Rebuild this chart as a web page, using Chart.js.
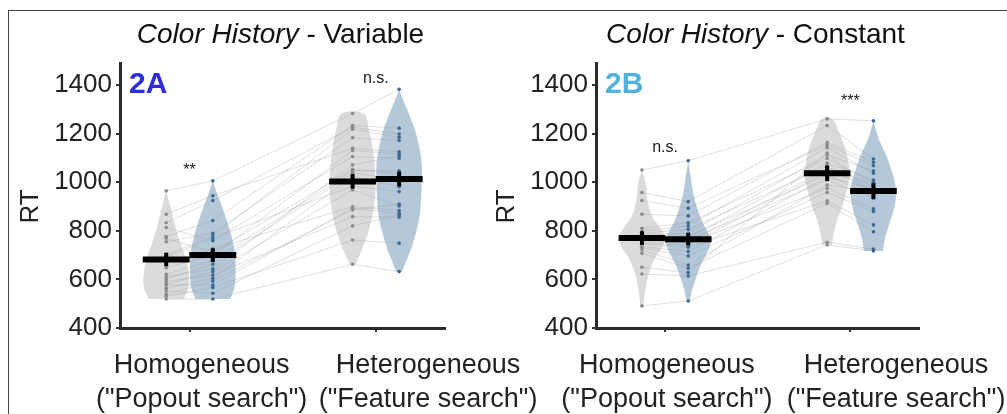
<!DOCTYPE html>
<html>
<head>
<meta charset="utf-8">
<script src="https://cdn.jsdelivr.net/npm/chart.js@4.4.1/dist/chart.umd.min.js"></script>
<style>
  html, body { margin: 0; padding: 0; background: #fff; }
  body { width: 1007px; height: 414px; position: relative; overflow: hidden; }
  #frame { position: absolute; left: 8px; top: 10px; width: 1020px; height: 420px;
           border-left: 1.5px solid #444; border-top: 1.5px solid #444; }
  canvas { position: absolute; left: 0; top: 0; }
</style>
</head>
<body>
<div id="frame"></div>
<canvas id="chartA" width="1007" height="414"></canvas>
<canvas id="chartB" width="1007" height="414"></canvas>
<script>
// categories and ticks
const categoryLabels = [['Homogeneous', '("Popout search")'], ['Heterogeneous', '("Feature search")']];
const yTicks = [400, 600, 800, 1000, 1200, 1400];

// 2A - Color History Variable, one value per participant
const rtA_homGray = [964, 833, 868, 776, 813, 755, 769, 700, 693, 648, 670, 611, 621, 591, 602, 580, 563, 577, 539, 552, 530, 519];
const rtA_homBlue = [1005, 924, 944, 842, 759, 790, 711, 779, 769, 700, 725, 643, 677, 618, 662, 632, 604, 577, 593, 543, 567, 519];
const rtA_hetGray = [1282, 1226, 1139, 1233, 1105, 1183, 1053, 1218, 984, 1130, 899, 1071, 1047, 858, 1037, 968, 1023, 893, 886, 820, 762, 662];
const rtA_hetBlue = [1382, 1198, 1125, 1222, 1098, 1171, 1034, 1185, 961, 1116, 883, 1108, 1047, 856, 1012, 902, 981, 872, 910, 865, 749, 632];
const meanA = [682, 700, 1003, 1013];
const semA = [28, 28, 30, 30];
const sigA = ['**', 'n.s.'];
const sigYA = [1030, 1408];
const labelPosA = [1.065, 2.28];

// 2B - Color History Constant
const rtB_homGray = [1050, 924, 957, 810, 868, 790, 799, 779, 785, 770, 775, 759, 765, 746, 750, 730, 735, 707, 721, 622, 650, 491];
const rtB_homBlue = [1088, 893, 920, 833, 861, 806, 820, 779, 790, 762, 770, 746, 752, 732, 740, 696, 714, 646, 659, 614, 628, 511];
const rtB_hetGray = [1260, 1153, 1233, 1098, 1163, 1065, 1142, 1030, 1112, 1009, 1078, 975, 1054, 923, 1043, 958, 1020, 913, 988, 753, 1120, 742];
const rtB_hetBlue = [1252, 1068, 1095, 1000, 1082, 955, 1037, 940, 1046, 934, 1009, 890, 995, 824, 986, 879, 975, 796, 961, 725, 947, 717];
const meanB = [770, 765, 1037, 963];
const semB = [28, 25, 32, 32];
const sigB = ['n.s.', '***'];
const sigYB = [1124, 1314];
const labelPosB = [1.01, 2.247];

// violin outlines: [RT, relative half width]
const violinA_homGray = [[519, .77], [563, .97], [618, 1], [687, .85], [755, .6], [824, .38], [893, .2], [964, 0]];
const violinA_homBlue = [[519, .77], [563, .94], [618, 1], [700, .98], [755, .88], [824, .68], [893, .43], [947, .21], [1005, 0]];
const violinA_hetGray = [[662, .13], [680, .22], [735, .47], [803, .72], [872, .89], [940, .99], [1009, 1], [1078, .96], [1146, .87], [1215, .72], [1282, .49]];
const violinA_hetBlue = [[632, .13], [680, .33], [735, .56], [803, .77], [872, .92], [940, .97], [1009, 1], [1078, .99], [1146, .88], [1215, .69], [1283, .42], [1338, .18], [1382, 0]];
const violinB_homGray = [[491, .07], [556, .15], [625, .31], [693, .61], [735, .92], [776, 1], [817, .77], [858, .46], [927, .24], [995, .17], [1050, 0]];
const violinB_homBlue = [[511, .07], [556, .17], [611, .36], [666, .59], [721, .89], [762, 1], [790, .89], [831, .65], [886, .42], [954, .22], [1023, .11], [1088, 0]];
const violinB_hetGray = [[742, .22], [769, .25], [837, .42], [906, .69], [975, .89], [1030, 1], [1071, .96], [1139, .8], [1208, .51], [1260, .22]];
const violinB_hetBlue = [[717, .42], [769, .51], [837, .73], [893, .92], [947, 1], [988, .97], [1043, .82], [1112, .56], [1181, .22], [1252, 0]];

const FONT = '"Liberation Sans", Arial, Helvetica, sans-serif';
const OFFSET = 0.125;      // gray left, blue right of each category
const VIOLIN_W = 0.122;
const BAR_W = 0.126;
const GRAY_FILL = 'rgba(190,190,190,0.55)';
const BLUE_FILL = 'rgba(120,155,185,0.55)';
const GRAY_DOT = '#8a8a8a';
const BLUE_DOT = '#3b6890';

function violinPoints(center, outline) {
    const right = outline.map(p => ({x: center + VIOLIN_W * p[1], y: p[0]}));
    const left = outline.slice().reverse().map(p => ({x: center - VIOLIN_W * p[1], y: p[0]}));
    return right.concat(left);
}

function panelPlugin(p) {
    return {
        id: 'panelText',
        afterDraw(chart) {
            const {ctx, chartArea, scales} = chart;
            const xs = scales.x, ys = scales.y;
            ctx.save();
            ctx.fillStyle = '#111';
            ctx.textAlign = 'left';
            ctx.textBaseline = 'alphabetic';

            // title, italic part + plain part
            const fItalic = 'italic 28px ' + FONT;
            const fPlain = '28px ' + FONT;
            ctx.font = fItalic;
            const w1 = ctx.measureText('Color History').width;
            ctx.font = fPlain;
            const w2 = ctx.measureText(' - ' + p.condition).width;
            const tx = (chartArea.left + chartArea.right) / 2 - (w1 + w2) / 2 - 2;
            const ty = chartArea.top - 20;
            ctx.font = fItalic;
            ctx.fillText('Color History', tx, ty);
            ctx.font = fPlain;
            ctx.fillText(' - ' + p.condition, tx + w1, ty);

            // panel tag
            ctx.font = 'bold 30px ' + FONT;
            ctx.fillStyle = p.tagColor;
            ctx.fillText(p.tag, chartArea.left + 9, ys.getPixelForValue(yTicks[yTicks.length - 1]) + 8);

            // category labels under the axis
            ctx.fillStyle = '#222';
            ctx.font = '27px ' + FONT;
            ctx.textAlign = 'center';
            categoryLabels.forEach((lines, i) => {
                const lx = xs.getPixelForValue(p.labelPos[i]);
                lines.forEach((t, j) => ctx.fillText(t, lx, chartArea.bottom + 45 + j * 34));
            });

            // significance
            ctx.font = '16px ' + FONT;
            p.sig.forEach((s, i) => {
                ctx.fillText(s, xs.getPixelForValue(i + 1), ys.getPixelForValue(p.sigY[i]));
            });

            // y title
            ctx.font = '26px ' + FONT;
            ctx.textBaseline = 'middle';
            ctx.translate(chartArea.left - 89, ys.getPixelForValue((yTicks[0] + yTicks[yTicks.length - 1]) / 2));
            ctx.rotate(-Math.PI / 2);
            ctx.fillText('RT', 0, 0);
            ctx.restore();
        }
    };
}

function makePanel(id, p) {
    const xs = [1 - OFFSET, 1 + OFFSET, 2 - OFFSET, 2 + OFFSET];
    const fills = [GRAY_FILL, BLUE_FILL, GRAY_FILL, BLUE_FILL];
    const dotColors = [GRAY_DOT, BLUE_DOT, GRAY_DOT, BLUE_DOT];
    const datasets = [];

    p.violins.forEach((v, i) => {
        datasets.push({
            data: violinPoints(xs[i], v),
            fill: 'shape',
            backgroundColor: fills[i],
            borderColor: 'transparent',
            borderWidth: 0,
            pointRadius: 0,
            tension: 0.35,
            order: 4
        });
    });

    p.series[0].forEach((_, k) => {
        datasets.push({
            data: p.series.map((s, i) => ({x: xs[i], y: s[k]})),
            borderColor: 'rgba(150,150,150,0.3)',
            borderWidth: 1,
            pointRadius: 0,
            fill: false,
            order: 3
        });
    });

    p.series.forEach((s, i) => {
        datasets.push({
            data: s.map(v => ({x: xs[i], y: v})),
            showLine: false,
            pointRadius: 1.8,
            pointBorderWidth: 0,
            pointBackgroundColor: dotColors[i],
            order: 2
        });
    });

    p.means.forEach((m, i) => {
        datasets.push({
            data: [{x: xs[i] - BAR_W, y: m}, {x: xs[i] + BAR_W, y: m}],
            borderColor: '#000', borderWidth: 6, pointRadius: 0, fill: false, order: 1
        });
        datasets.push({
            data: [{x: xs[i], y: m - p.sems[i]}, {x: xs[i], y: m + p.sems[i]}],
            borderColor: '#000', borderWidth: 4, pointRadius: 0, fill: false, order: 1
        });
    });

    new Chart(document.getElementById(id), {
        type: 'line',
        data: {datasets: datasets},
        options: {
            responsive: false,
            animation: false,
            events: [],
            layout: {padding: p.padding},
            plugins: {legend: {display: false}, tooltip: {enabled: false}, title: {display: false}},
            scales: {
                x: {
                    type: 'linear',
                    min: 0.627,
                    max: 2.371,
                    afterBuildTicks: s => { s.ticks = categoryLabels.map((_, i) => ({value: i + 1})); },
                    afterFit: s => { s.height = 86; },
                    ticks: {
                        callback: () => '',
                        maxRotation: 0,
                        autoSkip: false
                    },
                    grid: {display: true, drawOnChartArea: false, tickLength: 4, color: '#333', lineWidth: 2},
                    border: {display: true, color: '#2a2a2a', width: 3}
                },
                y: {
                    type: 'linear',
                    min: 400,
                    max: 1490,
                    afterBuildTicks: s => { s.ticks = yTicks.map(v => ({value: v})); },
                    afterFit: s => { s.width = 120; },
                    ticks: {
                        callback: v => String(v),
                        font: {family: FONT, size: 26},
                        color: '#222',
                        padding: 4
                    },
                    grid: {display: true, drawOnChartArea: false, tickLength: 4, color: '#333', lineWidth: 2},
                    border: {display: true, color: '#2a2a2a', width: 3}
                }
            }
        },
        plugins: [panelPlugin(p)]
    });
}

makePanel('chartA', {
    condition: 'Variable', tag: '2A', tagColor: '#2d2ed8',
    series: [rtA_homGray, rtA_homBlue, rtA_hetGray, rtA_hetBlue],
    violins: [violinA_homGray, violinA_homBlue, violinA_hetGray, violinA_hetBlue],
    means: meanA, sems: semA, sig: sigA, sigY: sigYA, labelPos: labelPosA,
    padding: {left: 0, right: 562, top: 63, bottom: 0}
});

makePanel('chartB', {
    condition: 'Constant', tag: '2B', tagColor: '#4db3dd',
    series: [rtB_homGray, rtB_homBlue, rtB_hetGray, rtB_hetBlue],
    violins: [violinB_homGray, violinB_homBlue, violinB_hetGray, violinB_hetBlue],
    means: meanB, sems: semB, sig: sigB, sigY: sigYB, labelPos: labelPosB,
    padding: {left: 476, right: 88, top: 63, bottom: 0}
});
</script>
</body>
</html>
